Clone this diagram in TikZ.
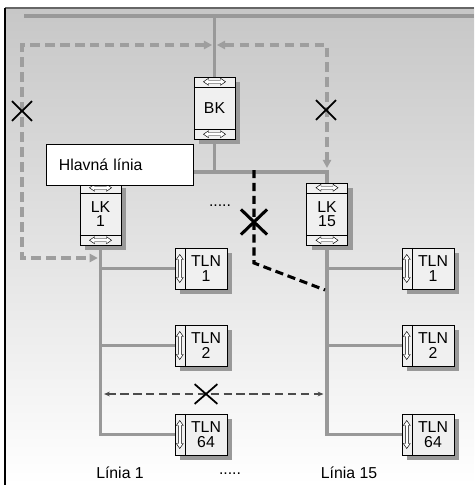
\documentclass[tikz,border=0pt]{standalone}
\usepackage{fontspec}
\setmainfont{Liberation Sans}
\usetikzlibrary{arrows.meta,calc,positioning,shadows,shapes.misc}
\pgfdeclarelayer{back}
\pgfdeclarelayer{lines}
\pgfsetlayers{back,lines,main}

\tikzset{
  bus/.style={line width=3.2pt,draw=black!40},
  route/.style={line width=3.2pt,draw=black!38,dash pattern=on 8.5pt off 4.3pt,
    <->,>={Triangle[length=7pt,width=7pt]}},
  cut/.style={line width=2.6pt,draw=black,dash pattern=on 7pt off 4pt},
  link/.style={line width=1.3pt,draw=black!70,dash pattern=on 7pt off 4pt,
    <->,>={Stealth[length=5pt,width=4pt]}},
  xmark/.style={cross out,draw=black,line width=1.5pt,minimum width=0.55cm,
    minimum height=0.54cm,inner sep=0pt},
  shade5/.style={drop shadow={fill=black!40,opacity=1,shadow xshift=0.16cm,shadow yshift=-0.16cm}},
  module/.style={draw=black,fill=black!6,minimum width=1.23cm,minimum height=1.86cm,
    inner sep=0pt,align=center,shade5},
  tln/.style={draw=black,fill=black!6,minimum width=1.56cm,minimum height=1.23cm,
    inner sep=0pt,shade5},
  tlntext/.style={align=center,xshift=0.15cm,inner sep=0pt}
}

% hollow two-way arrow: centre, half length, angle
\newcommand{\twoway}[3]{%
  \draw[fill=white,line width=0.4pt,shift={(#1)},rotate=#3]
    (-#2,0) -- (-#2+5,-3.5) -- (-#2+5,-1.5) -- (#2-5,-1.5) -- (#2-5,-3.5) -- (#2,0)
    -- (#2-5,3.5) -- (#2-5,1.5) -- (-#2+5,1.5) -- (-#2+5,3.5) -- cycle;}

\begin{document}
\begin{tikzpicture}[x=0.03cm,y=-0.03cm,every node/.style={font=\fontsize{13.5}{12.4}\selectfont}]
\useasboundingbox (0,0) rectangle (474,485);

\begin{pgfonlayer}{back}
\shade[top color=black!22,bottom color=white] (5,8) rectangle (474,485);
\draw[black!60,line width=1.2pt] (5,8) -- (474,8);
\draw[black,line width=1.2pt] (5,8) -- (5,485);
\end{pgfonlayer}

% couplers and devices
\node[module] (BK) at (214.5,108) {BK};
\node[module] (LK1) at (100.5,214) {LK\\1};
\node[module] (LK15) at (327,214) {LK\\15};
\foreach \y/\s/\n in {268.5/a/1,345.5/b/2,434.5/c/64} {
  \node[tln,label={[tlntext]center:TLN\\\n}] (L1\s) at (201,\y) {};
  \node[tln,label={[tlntext]center:TLN\\\n}] (L15\s) at (428,\y) {};
}
\foreach \m in {BK,LK1,LK15} {
  \draw ($(\m.north west)+(0,10)$) -- ($(\m.north east)+(0,10)$);
  \draw ($(\m.south west)+(0,-10)$) -- ($(\m.south east)+(0,-10)$);
  \twoway{$(\m.north)+(0,5)$}{11}{0}
  \twoway{$(\m.south)+(0,-5)$}{11}{0}
}
\foreach \t in {L1a,L1b,L1c,L15a,L15b,L15c} {
  \draw ($(\t.north west)+(10,0)$) -- ($(\t.south west)+(10,0)$);
  \twoway{$(\t.west)+(5,0)$}{14}{90}
}

\node[draw=black,fill=white,minimum width=4.41cm,minimum height=1.23cm,
  inner xsep=0.39cm,text width=3.63cm,align=left] (hlavna) at (119.5,164.5) {Hlavná línia};

% bus lines
\coordinate (top) at (24,16);
\coordinate (topR) at (474,16);
\coordinate (hl) at (100.5,172);
\coordinate (hr) at (327,172);
\begin{pgfonlayer}{lines}
\draw[bus] (top) -- (topR);
\draw[bus] (BK.north) -- (BK.north |- top);
\draw[bus] (BK.south) -- (BK.south |- hl);
\draw[bus] (LK1.north) -- (hl) -- (hr) -- (LK15.north);
\draw[bus] (LK1.south) |- (L1c.west);
\draw[bus] (LK15.south) |- (L15c.west);
\foreach \s in {a,b} {
  \draw[bus] (L1\s.west) -- (L1\s.west -| LK1.south);
  \draw[bus] (L15\s.west) -- (L15\s.west -| LK15.south);
}
\end{pgfonlayer}

% routes
\coordinate (r1) at (22,45);
\coordinate (r2) at (22,258);
\coordinate (r3) at (327,45);
\draw[route,shorten <=2pt,shorten >=2.3pt] (BK.north |- r1) -- (r1) -- (r2) -- (r2 -| LK1.south);
\draw[route,shorten <=2pt,shorten >=3.4pt] (BK.north |- r3) -- (r3) -- (r3 |- hr);
\node[xmark] (x1) at (22,111) {};
\node[xmark] (x2) at (326,110) {};

\coordinate (k0) at (254,170);
\coordinate (k1) at (254,263);
\coordinate (k2) at (325,290);
\draw[cut] (k0) -- (k1) -- (k2);
\node[xmark,line width=2.6pt,minimum width=0.69cm,minimum height=0.66cm] (x3) at (254,222) {};

\coordinate (d1) at (100.5,394);
\coordinate (d2) at (327,394);
\draw[link,shorten <=3pt,shorten >=3pt] (d1) -- (d2);
\node[xmark,minimum width=0.63cm] (x4) at (206,394) {};

% labels
\node (dots1) at (220,206) {.....};
\node (lin1) at (120,473) {Línia 1};
\node (dots2) at (230,474) {.....};
\node (lin15) at (349,473) {Línia 15};
\end{tikzpicture}
\end{document}
